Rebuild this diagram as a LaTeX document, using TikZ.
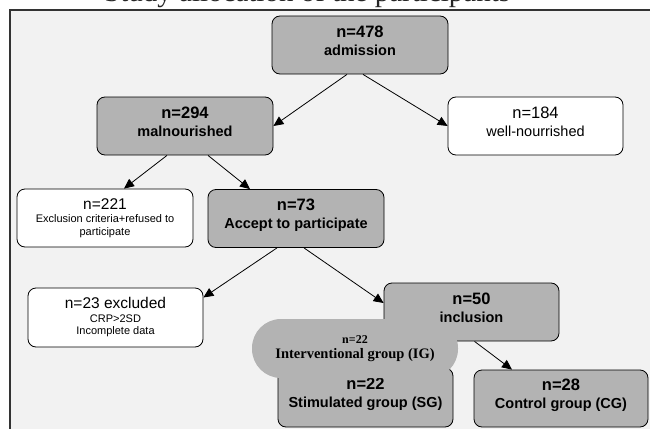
\documentclass[tikz,border=0pt]{standalone}
\usepackage{fontspec}
\setmainfont{Liberation Sans}
\newfontfamily\titlefont{Liberation Serif}
\usetikzlibrary{arrows.meta}

\definecolor{boxgray}{HTML}{B3B3B3}
\definecolor{panelgray}{HTML}{F2F2F2}

\tikzset{
  gbox/.style={draw=black,fill=boxgray,rounded corners=8pt,line width=0.8pt,
    minimum width=176pt,minimum height=58pt,inner sep=0pt,align=center,
    font=\fontsize{14.5}{18}\selectfont\bfseries},
  wbox/.style={draw=black,fill=white,rounded corners=8pt,line width=0.8pt,
    minimum width=176pt,minimum height=58pt,inner sep=0pt,align=center},
  lift/.style={execute at end node={\rule[-9pt]{0pt}{0pt}}},
  arr/.style={-{Triangle[length=10pt,width=9pt]},line width=0.8pt},
}

\begin{document}
\begin{tikzpicture}[x=1pt,y=-1pt]
      \useasboundingbox (0,0) rectangle (650,428);
      \clip (0,0) rectangle (650,428);
      % panel
      \draw[fill=panelgray,draw=black!80,line width=1.2pt] (10,10) rectangle (660,440);
      \node[anchor=base west,inner sep=0pt,text=black!85,font=\titlefont\fontsize{29}{29}\selectfont] (title) at (104,1.5) {Study allocation of the participants};
      % boxes
      \node[gbox,lift] (adm) at (360,45) {{\fontsize{16.5}{18}\selectfont n=478}\\admission};
      \node[gbox,lift] (maln) at (185,126) {{\fontsize{16.5}{18}\selectfont n=294}\\malnourished};
      \node[wbox,lift,minimum width=175pt,font=\fontsize{14.5}{18}\selectfont] (well) at (535.5,126) {{\fontsize{16.5}{18}\selectfont n=184}\\well-nourrished};
      \node[wbox,font=\fontsize{11}{12.5}\selectfont] (excl1) at (105,218) {{\fontsize{15.5}{18}\selectfont n=221}\\[1pt]Exclusion criteria+refused to\\participate};
      \node[gbox,lift] (accept) at (296,218.5) {{\fontsize{16.5}{18}\selectfont n=73}\\Accept to participate};
      \node[wbox,minimum width=175pt,minimum height=59pt,font=\fontsize{11}{12.5}\selectfont] (excl2) at (115.5,317.5) {{\fontsize{15.5}{18}\selectfont n=23 excluded}\\[1pt]CRP>2SD\\Incomplete data};
      \node[gbox,lift,minimum width=175pt] (incl) at (471.5,312) {{\fontsize{16.5}{18}\selectfont n=50}\\inclusion};
      \node[gbox,lift,minimum width=175pt,minimum height=59pt] (sg) at (365.5,397.5) {{\fontsize{16.5}{20}\selectfont n=22}\\Stimulated group (SG)};
      \node[gbox,lift,minimum width=174pt,minimum height=57pt] (cg) at (561,398.5) {{\fontsize{16.5}{20}\selectfont n=28}\\Control group (CG)};
      % arrows
      \draw[arr] ([xshift=-13pt]adm.south) -- (maln.east);
      \draw[arr] ([xshift=3pt]adm.south) -- (well.west);
      \draw[arr] ([xshift=-18pt]maln.south) -- ([xshift=19pt]excl1.north);
      \draw[arr] ([xshift=23pt]maln.south) -- ([xshift=-46pt]accept.north);
      \draw[arr] ([xshift=-19pt]accept.south) -- ([yshift=20pt]excl2.east);
      \draw[arr] ([xshift=8pt]accept.south) -- ([yshift=9pt]incl.west);
      \draw[arr] ([xshift=3pt]incl.south) -- ([xshift=-49pt]cg.north);
      % interventional group on top
      \node[fill=boxgray,rounded corners=29pt,minimum width=206pt,minimum height=59pt,inner sep=0pt,align=center,
        font=\titlefont\bfseries\fontsize{14.5}{15}\selectfont] (ig) at (355,348.5) {{\fontsize{12}{14}\selectfont n=22}\\Interventional group (IG)};
\end{tikzpicture}
\end{document}
